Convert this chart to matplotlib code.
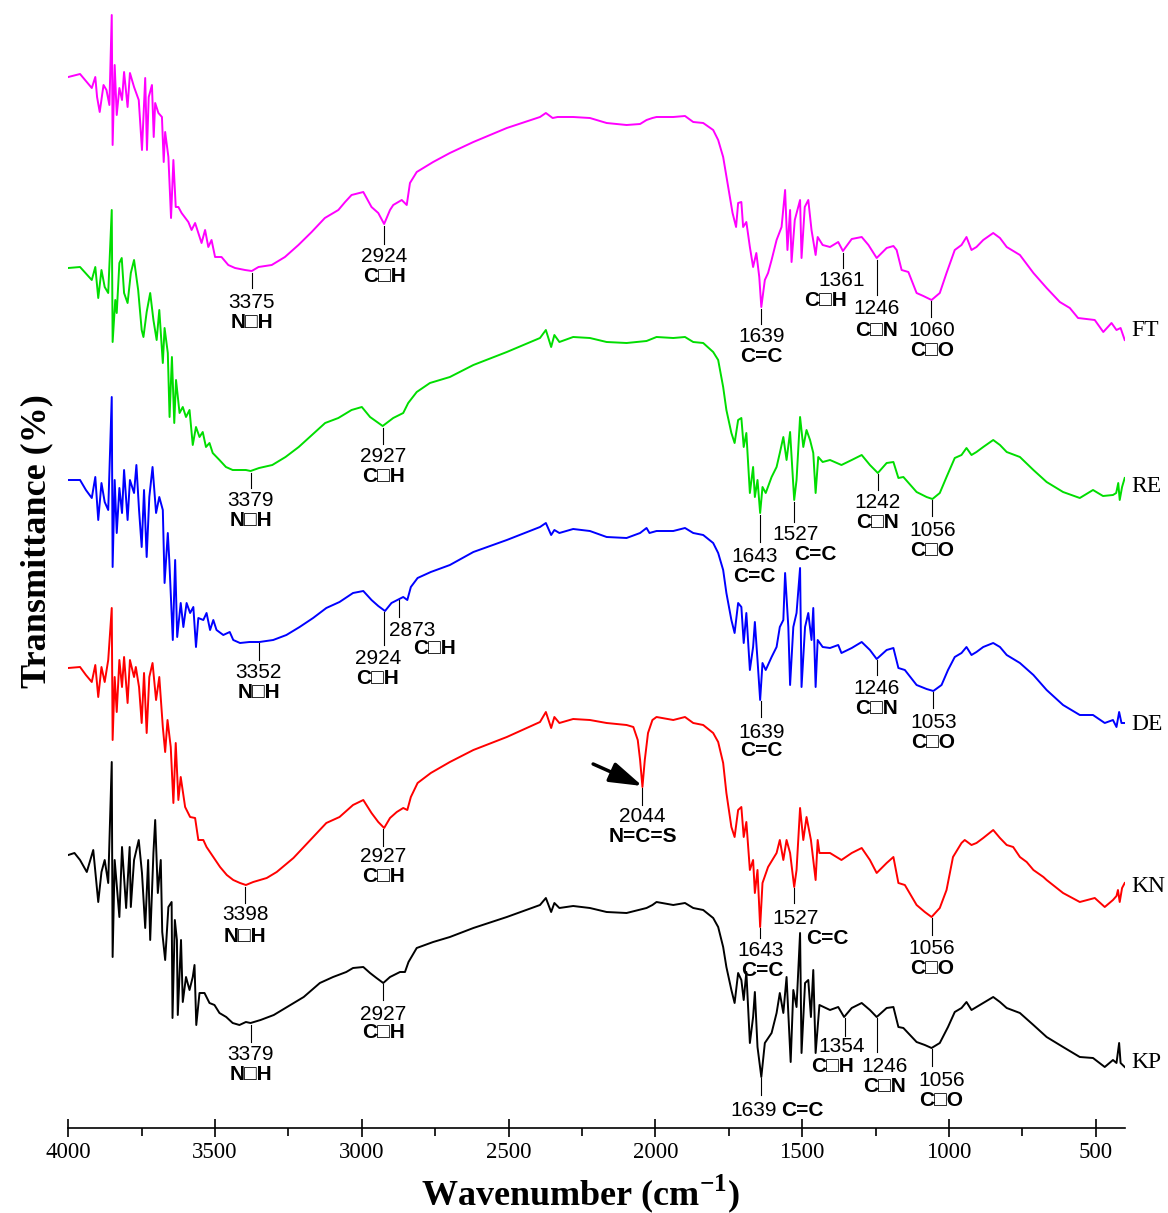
import numpy as np
import matplotlib.pyplot as plt

plt.rcParams['font.family'] = ['Liberation Serif', 'DejaVu Serif']
plt.rcParams['mathtext.fontset'] = 'custom'
plt.rcParams['mathtext.rm'] = 'Liberation Serif'
plt.rcParams['mathtext.bf'] = 'Liberation Serif:bold'

samples = ['FT', 'RE', 'DE', 'KN', 'KP']
colors = ['#FF00FF', '#00DD00', '#0000FF', '#FF0000', '#000000']
xticks = [4000, 3500, 3000, 2500, 2000, 1500, 1000, 500]

ft = [(4000, 77), (3960, 74), (3920, 88), (3908, 77), (3902, 97), (3893, 112), (3880, 85), (3870, 90),
      (3860, 105), (3852, 15), (3849, 145), (3842, 65), (3835, 115), (3826, 88), (3817, 100), (3810, 72),
      (3798, 107), (3790, 73), (3776, 87), (3760, 100), (3749, 150), (3738, 78), (3732, 150), (3726, 97),
      (3715, 85), (3709, 137), (3704, 103), (3693, 113), (3681, 117), (3675, 162), (3670, 132), (3659, 157),
      (3650, 218), (3642, 160), (3634, 207), (3625, 207), (3614, 213), (3591, 222), (3580, 230), (3568, 223),
      (3557, 233), (3546, 243), (3534, 230), (3523, 247), (3512, 240), (3500, 257), (3478, 257), (3455, 265),
      (3432, 268), (3398, 270), (3375, 271), (3352, 267), (3307, 265), (3262, 257), (3216, 245), (3171, 232),
      (3126, 218), (3080, 210), (3057, 202), (3035, 195), (2995, 192), (2967, 207), (2944, 213), (2924, 224),
      (2904, 210), (2893, 205), (2864, 200), (2847, 205), (2836, 183), (2813, 172), (2757, 162), (2700, 153),
      (2620, 142), (2506, 128), (2393, 117), (2373, 113), (2350, 118), (2333, 117), (2280, 117), (2223, 118),
      (2166, 123), (2098, 125), (2052, 124), (2030, 120), (2010, 118), (1996, 117), (1939, 117), (1899, 116),
      (1871, 122), (1837, 123), (1803, 130), (1786, 140), (1769, 157), (1752, 187), (1737, 213), (1725, 227),
      (1718, 203), (1707, 202), (1701, 227), (1690, 222), (1678, 247), (1667, 267), (1656, 253), (1646, 277),
      (1639, 307), (1627, 280), (1616, 273), (1604, 260), (1587, 240), (1570, 227), (1558, 190), (1550, 250),
      (1541, 210), (1536, 262), (1525, 220), (1507, 200), (1502, 258), (1491, 207), (1479, 200), (1468, 230),
      (1454, 255), (1447, 237), (1430, 245), (1405, 247), (1377, 242), (1361, 251), (1331, 239), (1297, 237),
      (1274, 245), (1246, 258), (1212, 248), (1189, 246), (1178, 250), (1161, 270), (1138, 272), (1110, 293),
      (1087, 296), (1059, 300), (1031, 293), (1008, 273), (980, 250), (957, 245), (940, 237), (923, 250),
      (906, 247), (883, 240), (849, 233), (826, 238), (803, 247), (758, 255), (712, 273), (667, 288),
      (622, 302), (588, 308), (560, 318), (503, 320), (474, 332), (446, 323), (429, 330), (415, 328), (401, 340)]

re = [(4000, 268), (3960, 267), (3920, 280), (3908, 267), (3898, 298), (3887, 270), (3876, 287), (3864, 293),
      (3852, 210), (3849, 342), (3840, 300), (3835, 313), (3826, 263), (3818, 258), (3810, 293), (3798, 303),
      (3787, 273), (3776, 260), (3762, 290), (3750, 330), (3744, 337), (3733, 312), (3721, 293), (3710, 320),
      (3699, 340), (3690, 310), (3678, 363), (3672, 328), (3661, 353), (3655, 417), (3647, 357), (3639, 423),
      (3633, 380), (3621, 413), (3610, 407), (3599, 417), (3587, 410), (3576, 445), (3565, 427), (3553, 437),
      (3542, 432), (3531, 447), (3519, 443), (3508, 453), (3485, 460), (3463, 467), (3440, 470), (3395, 470),
      (3379, 471), (3350, 468), (3305, 465), (3260, 457), (3215, 447), (3170, 435), (3125, 423), (3080, 418),
      (3035, 410), (3000, 407), (2972, 417), (2929, 426), (2893, 418), (2859, 413), (2842, 403), (2813, 392),
      (2768, 383), (2700, 377), (2620, 365), (2506, 352), (2393, 338), (2373, 330), (2355, 347), (2344, 335),
      (2327, 342), (2280, 337), (2223, 338), (2166, 342), (2098, 343), (2030, 341), (1996, 337), (1939, 338),
      (1899, 337), (1871, 342), (1837, 343), (1803, 352), (1786, 360), (1769, 387), (1758, 410), (1741, 433),
      (1730, 443), (1718, 420), (1707, 418), (1699, 447), (1690, 433), (1678, 493), (1667, 467), (1661, 497),
      (1652, 480), (1643, 513), (1635, 487), (1624, 493), (1604, 477), (1587, 467), (1576, 453), (1564, 437),
      (1553, 460), (1541, 432), (1527, 500), (1519, 480), (1507, 417), (1496, 447), (1485, 430), (1473, 440),
      (1462, 453), (1454, 493), (1445, 457), (1430, 462), (1405, 460), (1366, 465), (1331, 460), (1297, 455),
      (1269, 465), (1242, 473), (1212, 463), (1189, 462), (1172, 478), (1155, 477), (1110, 492), (1076, 497),
      (1056, 499), (1031, 493), (1008, 477), (980, 458), (957, 455), (940, 448), (923, 455), (906, 452),
      (883, 447), (849, 440), (826, 445), (803, 452), (758, 457), (712, 470), (667, 482), (611, 492),
      (554, 498), (509, 490), (475, 496), (441, 495), (430, 493), (423, 483), (418, 500), (410, 487), (401, 478)]

de = [(4000, 480), (3960, 480), (3940, 490), (3920, 498), (3908, 477), (3898, 520), (3887, 483), (3876, 502),
      (3864, 510), (3852, 397), (3849, 567), (3842, 480), (3835, 533), (3826, 488), (3817, 513), (3810, 470),
      (3798, 520), (3790, 480), (3776, 493), (3768, 465), (3759, 510), (3750, 547), (3742, 490), (3733, 557),
      (3724, 497), (3713, 467), (3701, 513), (3690, 497), (3678, 510), (3672, 583), (3661, 533), (3656, 560),
      (3644, 640), (3636, 560), (3629, 637), (3617, 603), (3608, 627), (3597, 603), (3585, 613), (3574, 607),
      (3565, 647), (3557, 618), (3540, 620), (3529, 613), (3517, 630), (3506, 620), (3495, 630), (3472, 635),
      (3450, 632), (3438, 640), (3415, 643), (3383, 642), (3349, 642), (3302, 640), (3257, 635), (3212, 627),
      (3166, 618), (3121, 608), (3076, 602), (3030, 593), (2995, 591), (2967, 600), (2944, 606), (2921, 611),
      (2899, 603), (2872, 599), (2859, 597), (2845, 600), (2833, 587), (2810, 578), (2765, 572), (2700, 565),
      (2620, 552), (2506, 540), (2393, 527), (2373, 523), (2355, 535), (2344, 530), (2327, 533), (2280, 529),
      (2223, 531), (2166, 537), (2098, 538), (2052, 533), (2030, 528), (2020, 533), (1996, 531), (1939, 531),
      (1899, 528), (1871, 533), (1837, 535), (1803, 543), (1786, 553), (1769, 570), (1758, 593), (1741, 620),
      (1730, 633), (1718, 603), (1707, 607), (1699, 643), (1690, 613), (1678, 670), (1667, 647), (1661, 622),
      (1652, 660), (1643, 700), (1635, 663), (1624, 670), (1604, 657), (1587, 647), (1576, 627), (1564, 620),
      (1558, 573), (1547, 627), (1541, 685), (1530, 627), (1519, 613), (1507, 568), (1502, 687), (1490, 627),
      (1479, 613), (1468, 640), (1462, 608), (1454, 687), (1447, 640), (1430, 647), (1405, 648), (1377, 645),
      (1366, 653), (1331, 648), (1297, 642), (1269, 650), (1246, 659), (1212, 650), (1189, 648), (1172, 668),
      (1150, 670), (1110, 685), (1076, 689), (1053, 691), (1025, 685), (1003, 670), (980, 657), (957, 653),
      (940, 647), (923, 655), (906, 652), (883, 647), (849, 643), (826, 647), (803, 655), (758, 663),
      (712, 675), (667, 690), (611, 705), (554, 715), (509, 715), (469, 723), (441, 720), (429, 727),
      (420, 712), (412, 723), (401, 723)]

kn = [(4000, 668), (3960, 667), (3940, 675), (3920, 682), (3908, 665), (3898, 697), (3887, 667), (3876, 682),
      (3864, 660), (3852, 608), (3849, 740), (3842, 677), (3835, 712), (3826, 660), (3817, 687), (3810, 657),
      (3798, 703), (3790, 660), (3776, 677), (3770, 667), (3759, 687), (3750, 723), (3742, 673), (3733, 733),
      (3724, 677), (3713, 663), (3701, 700), (3690, 677), (3678, 727), (3670, 752), (3662, 720), (3651, 747),
      (3642, 803), (3634, 743), (3625, 800), (3617, 777), (3602, 807), (3585, 817), (3568, 818), (3557, 840),
      (3540, 840), (3529, 847), (3506, 857), (3483, 867), (3460, 875), (3438, 880), (3415, 883), (3395, 885),
      (3370, 882), (3324, 878), (3290, 872), (3233, 858), (3166, 837), (3121, 823), (3076, 817), (3030, 805),
      (2995, 800), (2967, 813), (2944, 822), (2924, 828), (2904, 818), (2881, 812), (2859, 808), (2845, 810),
      (2833, 797), (2810, 783), (2765, 773), (2700, 762), (2620, 750), (2506, 737), (2393, 722), (2373, 712),
      (2355, 728), (2344, 717), (2327, 723), (2280, 719), (2223, 720), (2166, 723), (2098, 725), (2075, 727),
      (2060, 740), (2052, 760), (2044, 787), (2036, 760), (2025, 733), (2010, 720), (1996, 717), (1939, 720),
      (1899, 717), (1871, 723), (1837, 725), (1803, 733), (1786, 742), (1769, 763), (1758, 793), (1741, 827),
      (1730, 837), (1718, 810), (1707, 807), (1699, 837), (1690, 822), (1678, 870), (1667, 860), (1661, 893),
      (1652, 870), (1643, 927), (1635, 883), (1616, 867), (1587, 853), (1576, 840), (1564, 860), (1553, 840),
      (1541, 853), (1527, 887), (1519, 870), (1507, 808), (1496, 840), (1485, 817), (1470, 840), (1454, 880),
      (1447, 840), (1441, 853), (1405, 853), (1366, 860), (1331, 853), (1297, 848), (1269, 860), (1246, 873),
      (1212, 863), (1189, 857), (1172, 883), (1150, 885), (1110, 905), (1082, 912), (1059, 917), (1031, 908),
      (1008, 890), (986, 857), (957, 843), (946, 840), (923, 845), (906, 843), (883, 838), (849, 830),
      (826, 838), (803, 845), (781, 847), (758, 857), (735, 862), (712, 870), (678, 877), (667, 880),
      (611, 893), (554, 902), (503, 898), (469, 907), (441, 900), (429, 896), (424, 890), (418, 902),
      (410, 888), (401, 883)]

kp = [(4000, 855), (3979, 853), (3960, 860), (3937, 872), (3930, 865), (3915, 850), (3898, 902), (3887, 872),
      (3876, 860), (3864, 883), (3852, 762), (3849, 957), (3842, 860), (3826, 917), (3817, 847), (3803, 908),
      (3791, 847), (3787, 907), (3776, 860), (3760, 840), (3749, 873), (3738, 928), (3728, 860), (3721, 940),
      (3710, 853), (3704, 820), (3695, 893), (3685, 860), (3680, 932), (3670, 960), (3659, 907), (3648, 902),
      (3645, 1018), (3637, 920), (3630, 940), (3627, 1015), (3616, 940), (3610, 1002), (3599, 977), (3587, 990),
      (3576, 977), (3570, 965), (3564, 1025), (3553, 993), (3536, 993), (3519, 1003), (3502, 1005), (3485, 1013),
      (3462, 1017), (3440, 1023), (3417, 1025), (3395, 1022), (3379, 1023), (3345, 1020), (3300, 1015),
      (3243, 1005), (3198, 997), (3143, 983), (3098, 977), (3053, 972), (3030, 968), (2995, 967), (2972, 973),
      (2950, 978), (2927, 983), (2904, 977), (2870, 972), (2853, 972), (2841, 962), (2813, 948), (2757, 942),
      (2700, 937), (2620, 928), (2506, 917), (2393, 905), (2373, 898), (2355, 912), (2344, 903), (2327, 908),
      (2280, 906), (2223, 908), (2166, 912), (2098, 913), (2030, 908), (2010, 905), (1996, 902), (1939, 905),
      (1899, 903), (1871, 908), (1837, 910), (1803, 918), (1786, 927), (1769, 947), (1758, 967), (1741, 990),
      (1730, 1003), (1718, 973), (1707, 980), (1699, 1000), (1690, 972), (1678, 1043), (1667, 1017), (1661, 992),
      (1652, 1047), (1639, 1077), (1627, 1043), (1604, 1033), (1587, 1013), (1576, 993), (1564, 1013),
      (1553, 977), (1539, 1062), (1530, 990), (1519, 1007), (1507, 933), (1502, 1053), (1490, 983), (1479, 980),
      (1470, 1017), (1462, 970), (1454, 1053), (1441, 1005), (1405, 1010), (1377, 1007), (1357, 1017),
      (1331, 1008), (1297, 1003), (1269, 1010), (1246, 1017), (1212, 1008), (1189, 1007), (1172, 1027),
      (1155, 1028), (1110, 1042), (1082, 1045), (1059, 1048), (1031, 1043), (1003, 1027), (980, 1012),
      (957, 1008), (940, 1002), (923, 1010), (906, 1007), (883, 1003), (849, 997), (826, 1002), (803, 1008),
      (758, 1013), (712, 1025), (667, 1037), (611, 1047), (554, 1057), (509, 1058), (469, 1067), (441, 1060),
      (429, 1063), (420, 1043), (415, 1063), (401, 1067)]

traces = [ft, re, de, kn, kp]
label_level = [330, 487, 724, 887, 1063]

# peak labels: (peak, line top, line bottom, number, number x, number y, group, group x, group y)
peaks = [
    (3375, 273, 288, '3375', 3375, 300, 'N□H', 3375, 320),
    (2924, 226, 244, '2924', 2924, 255, 'C□H', 2924, 274),
    (1639, 309, 324, '1639', 1639, 335, 'C=C', 1639, 355),
    (1361, 253, 268, '1361', 1364, 279, 'C□H', 1419, 299),
    (1246, 260, 295, '1246', 1246, 307, 'C□N', 1246, 328),
    (1060, 301, 317, '1060', 1058, 328, 'C□O', 1058, 348),
    (3379, 473, 488, '3379', 3379, 499, 'N□H', 3379, 519),
    (2927, 428, 444, '2927', 2927, 455, 'C□H', 2927, 475),
    (1643, 515, 542, '1643', 1661, 555, 'C=C', 1661, 575),
    (1527, 502, 522, '1527', 1524, 533, 'C=C', 1456, 553),
    (1242, 474, 490, '1242', 1242, 500, 'C□N', 1242, 520),
    (1056, 500, 516, '1056', 1056, 528, 'C□O', 1056, 548),
    (3352, 643, 660, '3352', 3352, 670, 'N□H', 3352, 690),
    (2924, 612, 645, '2924', 2945, 657, 'C□H', 2945, 677),
    (2873, 600, 617, '2873', 2829, 628, 'C□H', 2754, 647),
    (1639, 701, 717, '1639', 1639, 730, 'C=C', 1639, 749),
    (1246, 660, 675, '1246', 1246, 687, 'C□N', 1246, 707),
    (1053, 692, 708, '1053', 1053, 720, 'C□O', 1053, 740),
    (3398, 887, 903, '3398', 3398, 913, 'N□H', 3398, 934),
    (2927, 829, 846, '2927', 2927, 855, 'C□H', 2927, 875),
    (2044, 788, 805, '2044', 2044, 815, 'N=C=S', 2044, 835),
    (1643, 928, 938, '1643', 1641, 948, 'C=C', 1637, 968),
    (1527, 888, 903, '1527', 1524, 917, 'C=C', 1415, 937),
    (1056, 918, 935, '1056', 1058, 946, 'C□O', 1058, 967),
    (3379, 1025, 1042, '3379', 3379, 1053, 'N□H', 3379, 1073),
    (2927, 984, 1000, '2927', 2927, 1012, 'C□H', 2927, 1031),
    (1639, 1078, 1095, '1639', 1664, 1108, 'C=C', 1500, 1108),
    (1354, 1018, 1036, '1354', 1364, 1045, 'C□H', 1395, 1065),
    (1246, 1018, 1052, '1246', 1218, 1064, 'C□N', 1218, 1084),
    (1056, 1049, 1066, '1056', 1025, 1078, 'C□O', 1025, 1098),
]

sans = ['Liberation Sans', 'DejaVu Sans']
serif = ['Liberation Serif', 'DejaVu Serif']

fig = plt.figure(figsize=(11.68, 12.13), dpi=100)
ax = fig.add_axes([68.3 / 1168, 1 - 1128 / 1213, (1125 - 68.3) / 1168, 1128 / 1213])

for data, name, c, lev in zip(traces, samples, colors, label_level):
    wn, y = zip(*data)
    ax.plot(wn, y, color=c, lw=1.4)
    ax.text(380, lev, name, fontsize=17, va='center', ha='left', clip_on=False)

for p, y0, y1, num, nx, ny, grp, gx, gy in peaks:
    ax.plot([p, p], [y0, y1], color='k', lw=0.8)
    ax.text(nx, ny + 7.5, num, fontsize=15, family=sans, ha='center', va='baseline')
    ax.text(gx, gy + 7.5, grp, fontsize=15, family=sans, weight='bold', ha='center', va='baseline')

ax.annotate('', xy=(2044, 786), xytext=(2212, 764),
            arrowprops=dict(arrowstyle='-|>,head_length=0.8,head_width=0.25', color='k',
                            lw=2.5, mutation_scale=25, shrinkA=0, shrinkB=0))

ax.set_xlim(4000, 400)
ax.set_ylim(1128, 0)
for s in ['left', 'right', 'top']:
    ax.spines[s].set_visible(False)
ax.spines['bottom'].set_linewidth(1.2)
ax.set_yticks([])
ax.set_xticks(xticks)
ax.set_xticklabels([str(t) for t in xticks], fontfamily=serif)
ax.set_xticks(np.arange(3750, 400, -500), minor=True)
ax.tick_params(axis='x', which='major', direction='inout', length=12.5, width=1.2, pad=4, labelsize=16.5)
ax.tick_params(axis='x', which='minor', direction='out', length=6, width=1.2)

ax.set_xlabel(r'Wavenumber (cm$^{\mathbf{-1}}$)', fontsize=26, weight='bold')
ax.xaxis.set_label_coords(0.485, -0.039)
ax.set_ylabel('Transmittance (%)', fontsize=26, weight='bold')
ax.yaxis.set_label_coords(-0.0145, 0.52)

fig.savefig('out.png', dpi=100)
